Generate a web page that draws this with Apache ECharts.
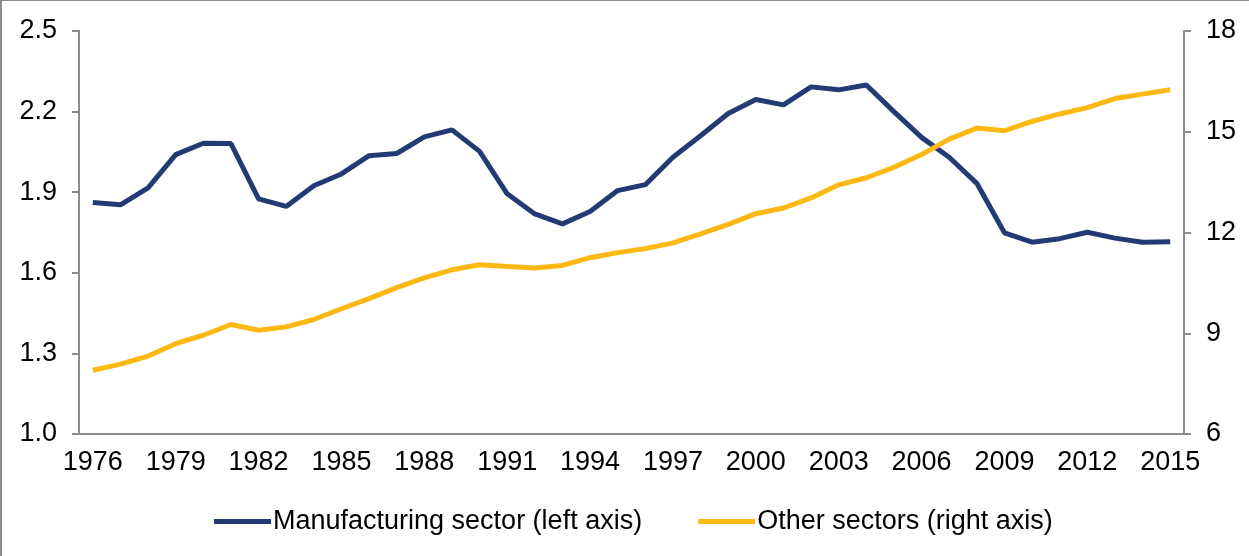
<!DOCTYPE html>
<html>
<head>
<meta charset="utf-8">
<script src="https://cdn.jsdelivr.net/npm/echarts@6/dist/echarts.min.js"></script>
<style>
  html, body { margin: 0; padding: 0; background: #fff; }
  #chart {
    width: 1249px; height: 556px; box-sizing: border-box;
    border-left: 2px solid #8c8c8c; border-top: 1px solid #8c8c8c;
  }
</style>
</head>
<body>
<div id="chart"></div>
<script>
// years on the x axis
const years = []
for (let y = 1976; y <= 2015; y++) years.push(String(y))

// Manufacturing sector (left axis)
const manufacturing = [
  1.862, 1.853, 1.916, 2.040, 2.082, 2.081, 1.875, 1.847, 1.924, 1.968,
  2.036, 2.044, 2.106, 2.132, 2.052, 1.894, 1.819, 1.782, 1.828, 1.906,
  1.928, 2.030, 2.110, 2.193, 2.245, 2.225, 2.292, 2.281, 2.299, 2.200,
  2.104, 2.030, 1.933, 1.749, 1.714, 1.727, 1.751, 1.729, 1.714, 1.716
]

// Other sectors (right axis)
const otherSectors = [
  7.90, 8.08, 8.32, 8.69, 8.94, 9.26, 9.09, 9.19, 9.41, 9.73,
  10.03, 10.36, 10.65, 10.89, 11.04, 10.99, 10.94, 11.02, 11.25, 11.40,
  11.52, 11.69, 11.96, 12.24, 12.56, 12.73, 13.03, 13.42, 13.63, 13.94,
  14.32, 14.78, 15.11, 15.03, 15.31, 15.53, 15.72, 15.99, 16.12, 16.25
]

const leftTicks = { min: 1.0, max: 2.5, interval: 0.3 }
const rightTicks = { min: 6, max: 18, interval: 3 }

const axisColor = '#8c8c8c'
const font = 'Liberation Sans, Arial, sans-serif'

const myChart = echarts.init(document.getElementById('chart'), null, { renderer: 'canvas' })

const valueAxis = (t, pos) => ({
  type: 'value',
  position: pos,
  min: t.min, max: t.max, interval: t.interval,
  splitLine: { show: false },
  axisLine: { show: true, lineStyle: { color: axisColor, width: 2 } },
  axisTick: { show: true, length: 7, lineStyle: { color: axisColor, width: 2 } },
  axisLabel: {
    color: '#000', fontSize: 27, fontFamily: font, margin: 22,
    formatter: v => pos === 'left' ? v.toFixed(1) : String(Math.round(v))
  }
})

const option = {
  animation: false,
  grid: { left: 77, right: 65, top: 30, bottom: 122, containLabel: false },
  legend: {
    bottom: 21, left: 212, padding: 0,
    itemWidth: 57, itemHeight: 5, itemGap: 56,
    icon: 'rect',
    textStyle: { color: '#000', fontSize: 27, fontFamily: font, padding: [0, 0, 0, -3] },
    data: ['Manufacturing sector (left axis)', 'Other sectors (right axis)']
  },
  xAxis: {
    type: 'category',
    data: years,
    boundaryGap: true,
    axisLine: { lineStyle: { color: axisColor, width: 2 } },
    axisTick: { interval: 2, length: 8, lineStyle: { color: axisColor, width: 2 } },
    axisLabel: { interval: 2, color: '#000', fontSize: 27, fontFamily: font, margin: 15 }
  },
  yAxis: [valueAxis(leftTicks, 'left'), valueAxis(rightTicks, 'right')],
  series: [{
    name: 'Manufacturing sector (left axis)',
    type: 'line',
    yAxisIndex: 0,
    data: manufacturing,
    symbol: 'none',
    lineStyle: { color: '#243a73', width: 5 },
    itemStyle: { color: '#243a73' }
  }, {
    name: 'Other sectors (right axis)',
    type: 'line',
    yAxisIndex: 1,
    data: otherSectors,
    symbol: 'none',
    lineStyle: { color: '#fdb813', width: 5 },
    itemStyle: { color: '#fdb813' }
  }]
}

myChart.setOption(option)
</script>
</body>
</html>
